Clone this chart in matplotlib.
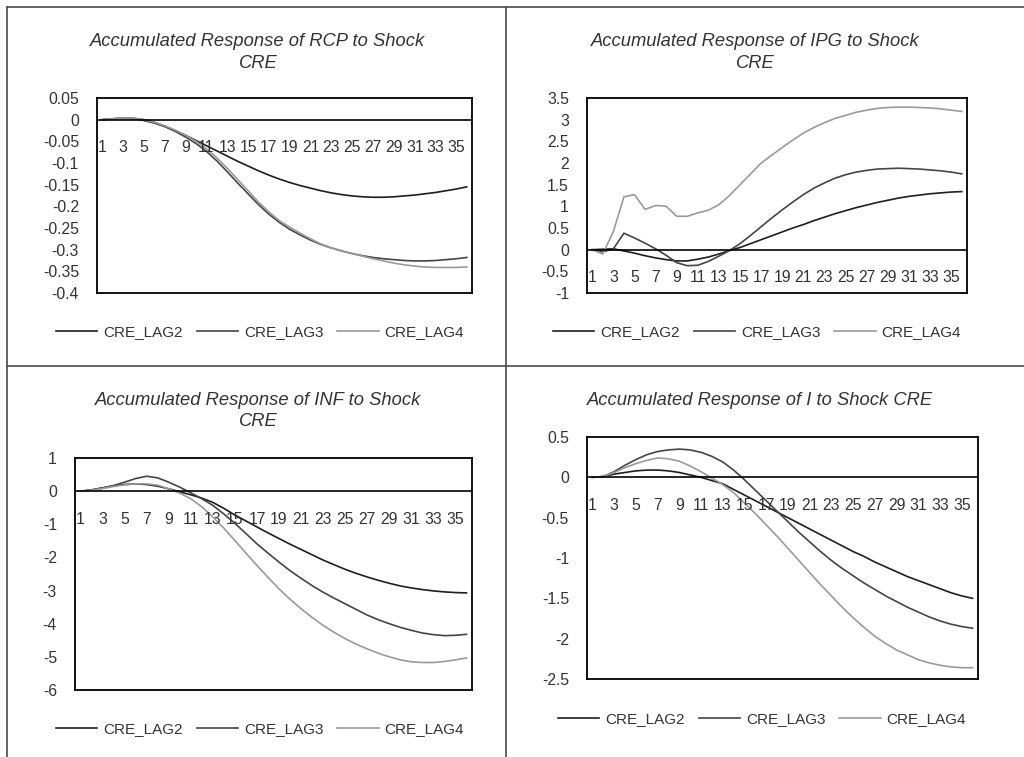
import matplotlib.pyplot as plt
from matplotlib.lines import Line2D

plt.rcParams['font.family'] = ['Liberation Sans', 'DejaVu Sans']

periods = list(range(1, 37))
x_labels = [str(p) for p in periods if p % 2 == 1]
series_names = ["CRE_LAG2", "CRE_LAG3", "CRE_LAG4"]

# RCP
rcp_lag2 = [0, 0.002, 0.003, 0.003, 0.0, -0.006, -0.015, -0.025, -0.036, -0.048, -0.06, -0.072,
            -0.084, -0.096, -0.107, -0.118, -0.128, -0.137, -0.145, -0.152, -0.158, -0.164, -0.169, -0.173,
            -0.176, -0.178, -0.179, -0.179, -0.178, -0.176, -0.174, -0.171, -0.168, -0.164, -0.16, -0.155]
rcp_lag3 = [0, 0.002, 0.004, 0.003, -0.002, -0.008, -0.016, -0.027, -0.04, -0.055, -0.073, -0.095,
            -0.12, -0.146, -0.171, -0.196, -0.218, -0.237, -0.253, -0.266, -0.278, -0.288, -0.296, -0.303,
            -0.309, -0.314, -0.318, -0.321, -0.323, -0.325, -0.326, -0.326, -0.325, -0.323, -0.321, -0.318]
rcp_lag4 = [0, 0.002, 0.004, 0.004, 0.0, -0.006, -0.014, -0.024, -0.036, -0.05, -0.067, -0.088,
            -0.112, -0.138, -0.164, -0.19, -0.213, -0.233, -0.248, -0.262, -0.275, -0.287, -0.296, -0.303,
            -0.309, -0.315, -0.321, -0.326, -0.331, -0.335, -0.338, -0.34, -0.341, -0.341, -0.341, -0.34]
rcp_ticks = [0.05, 0, -0.05, -0.1, -0.15, -0.2, -0.25, -0.3, -0.35, -0.4]
rcp_ticklabels = ["0.05", "0", "-0.05", "-0.1", "-0.15", "-0.2", "-0.25", "-0.3", "-0.35", "-0.4"]

# IPG
ipg_lag2 = [0, 0.01, 0.02, -0.03, -0.08, -0.14, -0.19, -0.23, -0.26, -0.26, -0.22, -0.17,
            -0.1, -0.02, 0.05, 0.14, 0.23, 0.32, 0.41, 0.5, 0.58, 0.67, 0.75, 0.83,
            0.9, 0.97, 1.03, 1.09, 1.14, 1.19, 1.23, 1.26, 1.29, 1.31, 1.33, 1.34]
ipg_lag3 = [0, -0.05, 0.02, 0.38, 0.27, 0.15, 0.02, -0.13, -0.3, -0.37, -0.36, -0.27,
            -0.15, -0.02, 0.14, 0.33, 0.53, 0.73, 0.92, 1.1, 1.27, 1.42, 1.54, 1.65,
            1.73, 1.79, 1.83, 1.86, 1.87, 1.88, 1.87, 1.86, 1.84, 1.82, 1.79, 1.75]
ipg_lag4 = [0, -0.1, 0.42, 1.22, 1.27, 0.93, 1.02, 1.0, 0.77, 0.77, 0.85, 0.91,
            1.04, 1.25, 1.5, 1.75, 2.0, 2.18, 2.36, 2.53, 2.69, 2.82, 2.93, 3.03,
            3.1, 3.17, 3.22, 3.26, 3.28, 3.29, 3.29, 3.28, 3.27, 3.25, 3.22, 3.19]
ipg_ticks = [3.5, 3, 2.5, 2, 1.5, 1, 0.5, 0, -0.5, -1]
ipg_ticklabels = ["3.5", "3", "2.5", "2", "1.5", "1", "0.5", "0", "-0.5", "-1"]

# INF
inf_lag2 = [0, 0.04, 0.1, 0.16, 0.2, 0.22, 0.2, 0.15, 0.07, -0.02, -0.11, -0.21,
            -0.34, -0.52, -0.72, -0.9, -1.08, -1.26, -1.43, -1.6, -1.76, -1.92, -2.08, -2.22,
            -2.36, -2.48, -2.59, -2.69, -2.78, -2.86, -2.92, -2.97, -3.01, -3.04, -3.06, -3.07]
inf_lag3 = [0, 0.03, 0.09, 0.17, 0.27, 0.38, 0.45, 0.4, 0.27, 0.12, -0.05, -0.23,
            -0.43, -0.69, -0.97, -1.28, -1.59, -1.87, -2.14, -2.4, -2.63, -2.85, -3.05, -3.23,
            -3.4, -3.57, -3.74, -3.88, -4.0, -4.11, -4.2, -4.28, -4.33, -4.36, -4.35, -4.32]
inf_lag4 = [0, 0.03, 0.08, 0.14, 0.19, 0.22, 0.22, 0.18, 0.07, -0.06, -0.23, -0.47,
            -0.78, -1.12, -1.49, -1.87, -2.24, -2.6, -2.95, -3.26, -3.55, -3.81, -4.05, -4.26,
            -4.45, -4.62, -4.76, -4.89, -5.0, -5.09, -5.15, -5.17, -5.17, -5.14, -5.09, -5.03]
inf_ticks = [1, 0, -1, -2, -3, -4, -5, -6]
inf_ticklabels = ["1", "0", "-1", "-2", "-3", "-4", "-5", "-6"]

# I
i_lag2 = [0, 0.01, 0.04, 0.06, 0.08, 0.09, 0.09, 0.08, 0.06, 0.03, 0.0, -0.04,
          -0.08, -0.15, -0.22, -0.29, -0.36, -0.43, -0.5, -0.57, -0.64, -0.71, -0.78, -0.85,
          -0.92, -0.98, -1.05, -1.11, -1.17, -1.23, -1.28, -1.33, -1.38, -1.43, -1.47, -1.5]
i_lag3 = [0, 0.01, 0.07, 0.15, 0.22, 0.28, 0.32, 0.34, 0.35, 0.34, 0.31, 0.26,
          0.19, 0.09, -0.03, -0.16, -0.29, -0.42, -0.55, -0.68, -0.8, -0.92, -1.03, -1.13,
          -1.22, -1.31, -1.39, -1.47, -1.54, -1.61, -1.67, -1.73, -1.78, -1.82, -1.85, -1.87]
i_lag4 = [0, 0.01, 0.06, 0.12, 0.17, 0.21, 0.24, 0.23, 0.2, 0.14, 0.07, -0.01,
          -0.09, -0.19, -0.32, -0.45, -0.59, -0.73, -0.88, -1.03, -1.18, -1.33, -1.47, -1.61,
          -1.74, -1.86, -1.97, -2.06, -2.14, -2.2, -2.26, -2.3, -2.33, -2.35, -2.36, -2.36]
i_ticks = [0.5, 0, -0.5, -1, -1.5, -2, -2.5]
i_ticklabels = ["0.5", "0", "-0.5", "-1", "-1.5", "-2", "-2.5"]

colors = ["#1e1e1e", "#454545", "#9a9a9a"]
text_col = "#333333"

W, H = 1024, 757
fig = plt.figure(figsize=(W / 100, H / 100), dpi=100)


def px_rect(l, t, r, b):
    return [l / W, 1 - b / H, (r - l) / W, (b - t) / H]


def panel(rect, series, ticks, ticklabels, title, title_xy, legend_xy):
    ax = fig.add_axes(px_rect(*rect))
    for vals, c in zip(series, colors):
        ax.plot(periods, vals, color=c, lw=1.2)
    ax.axhline(0, color="black", lw=1.2)
    ax.set_xlim(0.5, 36.5)
    ax.set_ylim(min(ticks), max(ticks))
    ax.set_xticks([])
    ax.set_yticks(ticks)
    ax.set_yticklabels(ticklabels, fontsize=11.3, color=text_col)
    ax.tick_params(axis="y", length=0, pad=13)
    for s in ax.spines.values():
        s.set_linewidth(1.3)
        s.set_color("black")
    # category labels sit along the zero line, Excel style
    for lab in x_labels:
        ax.annotate(lab, (int(lab), 0), xytext=(0, -28), textcoords="offset pixels",
                    ha="center", va="center", fontsize=11.3, color=text_col)
    fig.text(title_xy[0] / W, 1 - title_xy[1] / H, title, ha="center", va="center",
             fontsize=13.2, style="italic", color=text_col, linespacing=1.32)
    handles = [Line2D([], [], color=c, lw=1.2) for c in colors]
    ax.legend(handles, series_names, loc="center", ncol=3, frameon=False,
              bbox_to_anchor=(legend_xy[0] / W, 1 - legend_xy[1] / H),
              bbox_transform=fig.transFigure, fontsize=11, handlelength=2.7,
              handletextpad=0.39, columnspacing=0.92, labelcolor=text_col)
    return ax


panel((97, 98, 472, 293), [rcp_lag2, rcp_lag3, rcp_lag4], rcp_ticks, rcp_ticklabels,
      "Accumulated Response of RCP to Shock\nCRE", (258, 52.5), (260, 332))
panel((587, 98, 967, 293), [ipg_lag2, ipg_lag3, ipg_lag4], ipg_ticks, ipg_ticklabels,
      "Accumulated Response of IPG to Shock\nCRE", (755, 52.5), (757, 332))
panel((75, 458, 472, 690), [inf_lag2, inf_lag3, inf_lag4], inf_ticks, inf_ticklabels,
      "Accumulated Response of INF to Shock\nCRE", (258, 411), (260, 729))
panel((587, 437, 978, 679), [i_lag2, i_lag3, i_lag4], i_ticks, i_ticklabels,
      "Accumulated Response of I to Shock CRE", (760, 400), (762, 719))

# table borders around the four charts
border = dict(color="#4a4a4a", lw=1.2, transform=fig.transFigure)
fig.add_artist(Line2D([7 / W, 1], [1 - 7 / H, 1 - 7 / H], **border))
fig.add_artist(Line2D([7 / W, 1], [1 - 366 / H, 1 - 366 / H], **border))
fig.add_artist(Line2D([7 / W, 7 / W], [0, 1 - 7 / H], **border))
fig.add_artist(Line2D([506 / W, 506 / W], [0, 1 - 7 / H], **border))

fig.savefig("out.png", dpi=100)
